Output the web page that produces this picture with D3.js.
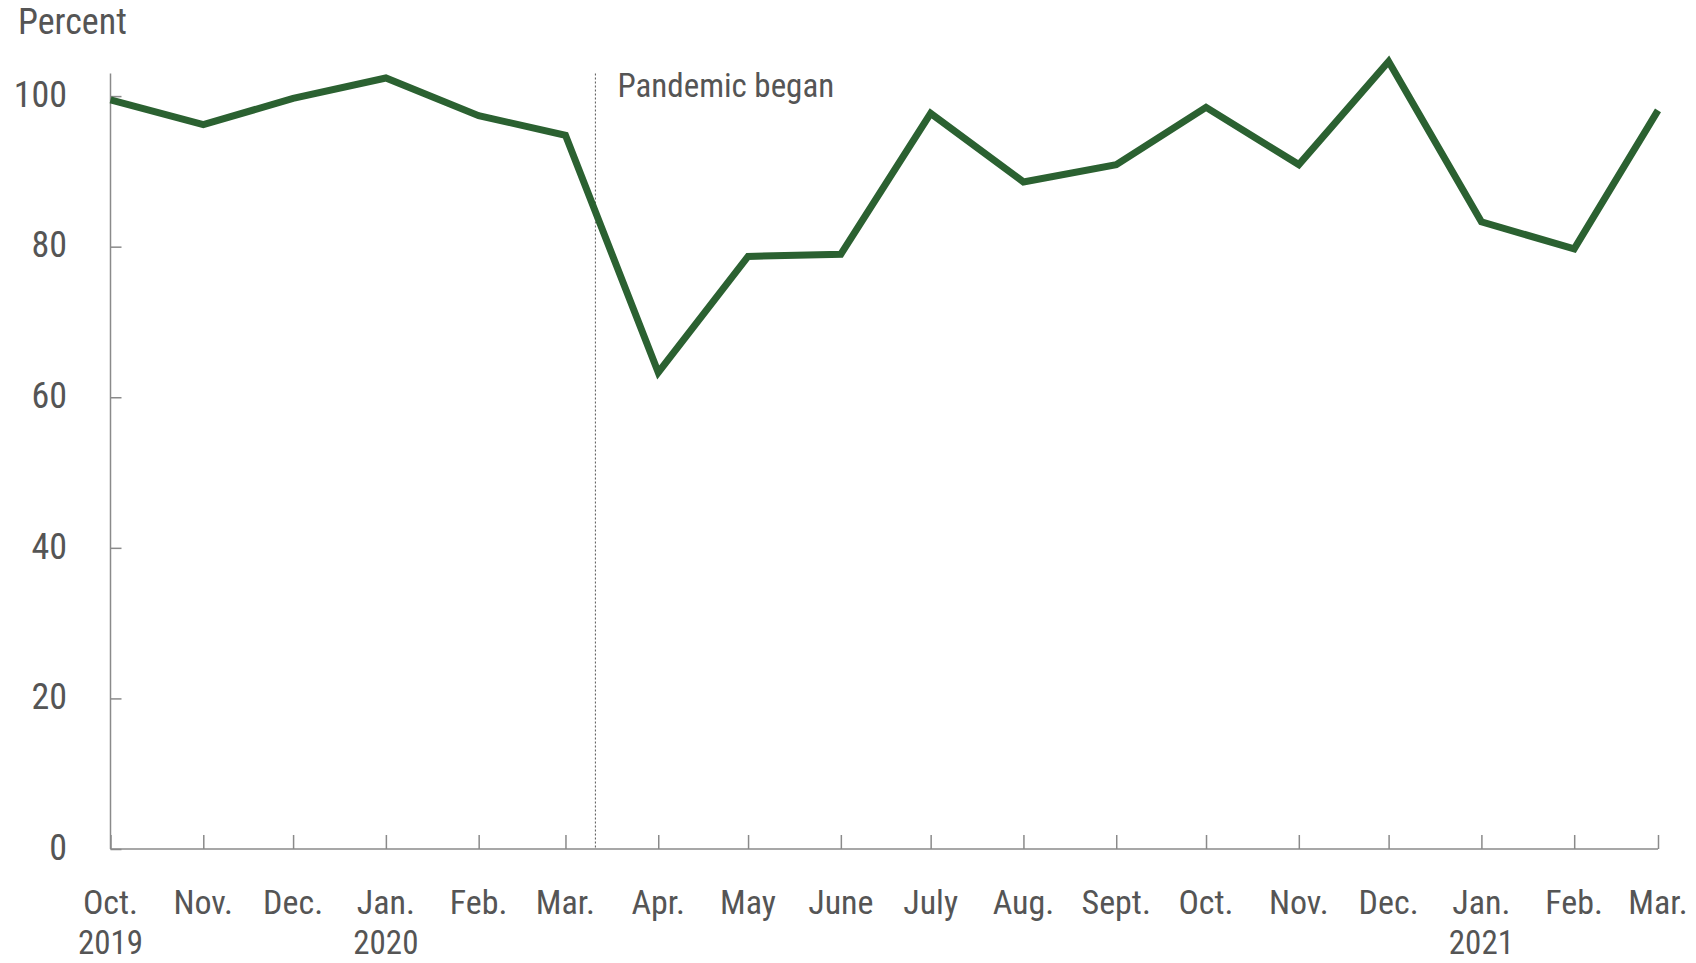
<!DOCTYPE html>
<html>
<head>
<meta charset="utf-8">
<script src="https://cdn.jsdelivr.net/npm/d3@7"></script>
<style>
  html, body { margin: 0; padding: 0; background: #fff; }
  svg { display: block; }
  text { font-family: "Liberation Sans Narrow", "Roboto Condensed", "DejaVu Sans Condensed", sans-serif; fill: #555555; }
</style>
</head>
<body>
<svg id="chart" width="1696" height="963"></svg>
<script>
// Data
const months = ["2019-10-01","2019-11-01","2019-12-01","2020-01-01","2020-02-01","2020-03-01",
  "2020-04-01","2020-05-01","2020-06-01","2020-07-01","2020-08-01","2020-09-01","2020-10-01",
  "2020-11-01","2020-12-01","2021-01-01","2021-02-01","2021-03-01"];
const values = [99.5, 96.2, 99.7, 102.4, 97.4, 94.8, 63.3, 78.7, 79.0, 97.7, 88.6, 90.9, 98.5, 90.9, 104.6, 83.3, 79.7, 98.1];
const monthLabels = ["Oct.","Nov.","Dec.","Jan.","Feb.","Mar.","Apr.","May","June","July","Aug.","Sept.","Oct.","Nov.","Dec.","Jan.","Feb.","Mar."];
const yearLabels = ["2019","","","2020","","","","","","","","","","","","2021","",""];
const yTicks = [0, 20, 40, 60, 80, 100];
const pandemicDate = "2020-03-11";
const annotationText = "Pandemic began";
const yTitle = "Percent";

const parse = d3.timeParse("%Y-%m-%d");
const dates = months.map(parse);

const svg = d3.select("#chart");
const mLeft = 110.5, mRight = 1658, mBottom = 849, mTop = 73.5;

const x = d3.scaleTime().domain([dates[0], dates[dates.length - 1]]).range([mLeft, mRight]);
const y = d3.scaleLinear().domain([0, 103]).range([mBottom, mTop]);

const axisColor = "#8a8a8a";

// Y axis
const yAxis = svg.append("g").attr("transform", `translate(${mLeft},0)`)
  .call(d3.axisRight(y).tickValues(yTicks).tickSize(11).tickFormat(""));
yAxis.select(".domain").attr("stroke", axisColor).attr("stroke-width", 1.5).attr("d", `M0,${mBottom}V${mTop}`);
yAxis.selectAll(".tick line").attr("stroke", axisColor).attr("stroke-width", 1.5);

svg.append("g").selectAll("text").data(yTicks).join("text")
  .attr("x", 67).attr("y", d => y(d)).attr("dy", "0.3em")
  .attr("text-anchor", "end").attr("font-size", 36).text(d => d);

// X axis
const xAxis = svg.append("g").attr("transform", `translate(0,${mBottom})`)
  .call(d3.axisTop(x).tickValues(dates).tickSize(14).tickFormat(""));
xAxis.select(".domain").attr("stroke", axisColor).attr("stroke-width", 1.5).attr("d", `M${mLeft},0H${mRight}`);
xAxis.selectAll(".tick line").attr("stroke", axisColor).attr("stroke-width", 1.5);

const xl = svg.append("g");
xl.selectAll("text.m").data(dates).join("text").attr("class", "m")
  .attr("x", d => x(d)).attr("y", 914).attr("text-anchor", "middle").attr("font-size", 34)
  .text((d, i) => monthLabels[i]);
xl.selectAll("text.yr").data(dates.filter((d, i) => yearLabels[i] !== "")).join("text").attr("class", "yr")
  .attr("x", d => x(d)).attr("y", 954).attr("text-anchor", "middle").attr("font-size", 33)
  .text(d => yearLabels[dates.indexOf(d)]);

// Y title
svg.append("text").attr("x", 18).attr("y", 34).attr("font-size", 36).text(yTitle);

// Pandemic line
const px = x(parse(pandemicDate));
svg.append("line").attr("x1", px).attr("x2", px).attr("y1", mTop).attr("y2", mBottom)
  .attr("stroke", "#555").attr("stroke-width", 1).attr("stroke-dasharray", "2,2");
svg.append("text").attr("x", px + 22).attr("y", 97).attr("font-size", 33).text(annotationText);

// Line
const line = d3.line().x((d, i) => x(dates[i])).y(d => y(d));
svg.append("path").datum(values).attr("d", line).attr("fill", "none")
  .attr("stroke", "#2b6131").attr("stroke-width", 7).attr("stroke-linejoin", "miter");
</script>
</body>
</html>
